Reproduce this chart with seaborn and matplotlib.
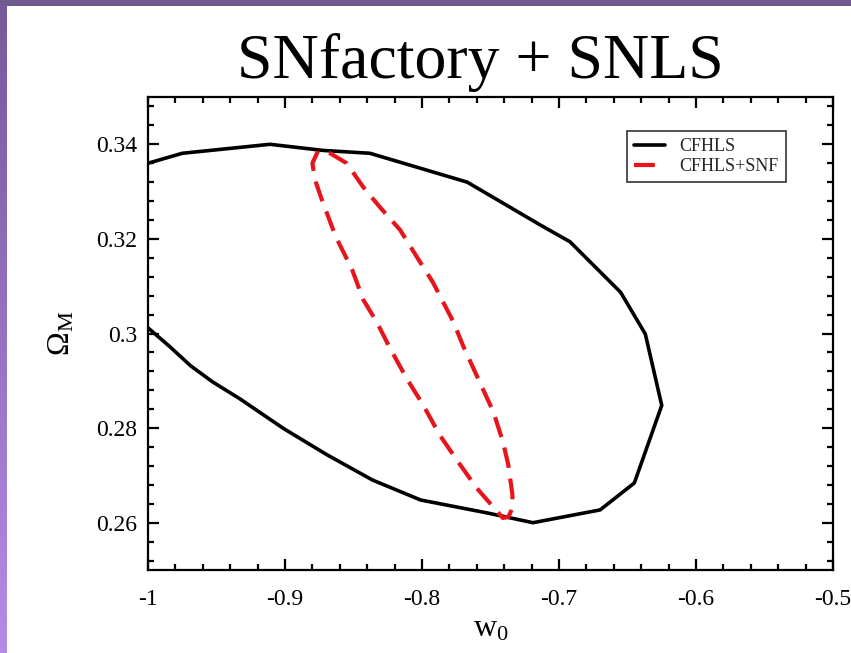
import numpy as np
import pandas as pd
import matplotlib
matplotlib.use("Agg")
import matplotlib.pyplot as plt
from matplotlib.patches import Rectangle
from matplotlib.lines import Line2D
from matplotlib.ticker import MultipleLocator
from matplotlib.colors import LinearSegmentedColormap
import seaborn as sns

# ---------------- data ----------------
cfhls_w0 = [-1.000, -0.975, -0.911, -0.872, -0.838, -0.767, -0.714, -0.692,
            -0.655, -0.637, -0.625, -0.645, -0.670, -0.719, -0.753, -0.801,
            -0.836, -0.869, -0.901, -0.933, -0.953, -0.969, -0.984, -1.000]
cfhls_om = [0.3360, 0.3381, 0.3400, 0.3387, 0.3381, 0.3320, 0.3230, 0.3194,
            0.3087, 0.2999, 0.2848, 0.2684, 0.2627, 0.2600, 0.2621, 0.2648,
            0.2690, 0.2743, 0.2799, 0.2862, 0.2898, 0.2932, 0.2972, 0.3012]

snf_w0 = [-0.876, -0.880, -0.878, -0.873, -0.863, -0.851, -0.843, -0.833,
          -0.823, -0.811, -0.799, -0.787, -0.774, -0.760, -0.741, -0.737,
          -0.734, -0.734, -0.737, -0.741, -0.748, -0.758, -0.770, -0.777,
          -0.792, -0.804, -0.816, -0.831, -0.843, -0.855, -0.867, -0.876]
snf_om = [0.3385, 0.3360, 0.3324, 0.3282, 0.3205, 0.3135, 0.3072, 0.3024,
          0.2967, 0.2904, 0.2848, 0.2785, 0.2730, 0.2673, 0.2610, 0.2612,
          0.2631, 0.2659, 0.2722, 0.2772, 0.2835, 0.2898, 0.2974, 0.3024,
          0.3108, 0.3163, 0.3219, 0.3268, 0.3310, 0.3360, 0.3381, 0.3385]

series_labels = ["CFHLS", "CFHLS+SNF"]
title_text = "SNfactory + SNLS"
x_ticks = [-1.0, -0.9, -0.8, -0.7, -0.6, -0.5]
x_tick_labels = ["-1", "-0.9", "-0.8", "-0.7", "-0.6", "-0.5"]
y_ticks = [0.26, 0.28, 0.30, 0.32, 0.34]
y_tick_labels = ["0.26", "0.28", "0.3", "0.32", "0.34"]

# ---------------- style ----------------
sns.set_theme(style="ticks")
plt.rcParams["font.family"] = ["Liberation Serif", "DejaVu Serif"]
plt.rcParams["mathtext.fontset"] = "custom"
plt.rcParams["mathtext.rm"] = "Liberation Serif"
plt.rcParams["mathtext.it"] = "Liberation Serif:italic"

W, H = 851, 653
fig = plt.figure(figsize=(W / 100, H / 100), dpi=100, facecolor="white")

# slide decoration: purple bars on top and left
fig.add_artist(Rectangle((0, 1 - 6 / H), 1, 6 / H, transform=fig.transFigure,
                         facecolor="#715a8f", edgecolor="none", zorder=0))
gax = fig.add_axes([0, 0, 7 / W, 1 - 6 / H])
grad = np.linspace(0, 1, 256).reshape(-1, 1)
cmap = LinearSegmentedColormap.from_list("purp", ["#b68ae6", "#76599a"])
gax.imshow(grad, aspect="auto", cmap=cmap, origin="lower")
gax.set_axis_off()

L, R, B, T = 148, 833, 570, 97
ax = fig.add_axes([L / W, 1 - B / H, (R - L) / W, (B - T) / H])

df_c = pd.DataFrame({"w0": cfhls_w0, "om": cfhls_om})
df_s = pd.DataFrame({"w0": snf_w0, "om": snf_om})
sns.lineplot(data=df_c, x="w0", y="om", sort=False, estimator=None,
             color="black", linewidth=2.6, ax=ax, legend=False)
sns.lineplot(data=df_s, x="w0", y="om", sort=False, estimator=None,
             color="#e8141c", linewidth=3.0, linestyle=(0, (5.0, 2.6)),
             ax=ax, legend=False)

ax.set_xlim(-1.0, -0.5)
ax.set_ylim(0.25, 0.35)
ax.set_xticks(x_ticks)
ax.set_xticklabels(x_tick_labels)
ax.set_yticks(y_ticks)
ax.set_yticklabels(y_tick_labels)
ax.xaxis.set_minor_locator(MultipleLocator(0.02))
ax.yaxis.set_minor_locator(MultipleLocator(0.004))
ax.tick_params(which="both", direction="in", top=True, right=True,
               color="black", width=1.6)
ax.tick_params(which="major", length=8, labelsize=17, labelcolor="black")
ax.tick_params(axis="x", which="major", pad=14)
ax.tick_params(axis="y", which="major", pad=8)
ax.tick_params(which="minor", length=4.5)
for s in ax.spines.values():
    s.set_linewidth(1.6)
    s.set_color("black")

ax.set_xlabel(r"$\mathrm{w}_{\mathrm{0}}$", fontsize=23, color="black")
ax.set_ylabel(r"$\Omega_{\mathrm{M}}$", fontsize=23, color="black")
ax.xaxis.set_label_coords(0.5, -0.095)
ax.yaxis.set_label_coords(-0.105, 0.5)

handles = [Line2D([], [], color="black", linewidth=2.6),
           Line2D([], [], color="#e8141c", linewidth=3.0,
                  linestyle=(0, (5.0, 2.6)))]
leg = ax.legend(handles, series_labels, loc="upper right",
                bbox_to_anchor=((786 - L) / (R - L), (B - 131) / (B - T)),
                borderaxespad=0, fontsize=13, frameon=True, fancybox=False,
                handlelength=1.7, handletextpad=0.8, borderpad=0.4,
                labelspacing=0.15)
leg.get_frame().set_edgecolor("black")
leg.get_frame().set_linewidth(1.2)

fig.text(480 / W, 1 - 62 / H, title_text, fontsize=46, ha="center",
         va="center", color="black")

fig.savefig("out.png", dpi=100, facecolor="white")
